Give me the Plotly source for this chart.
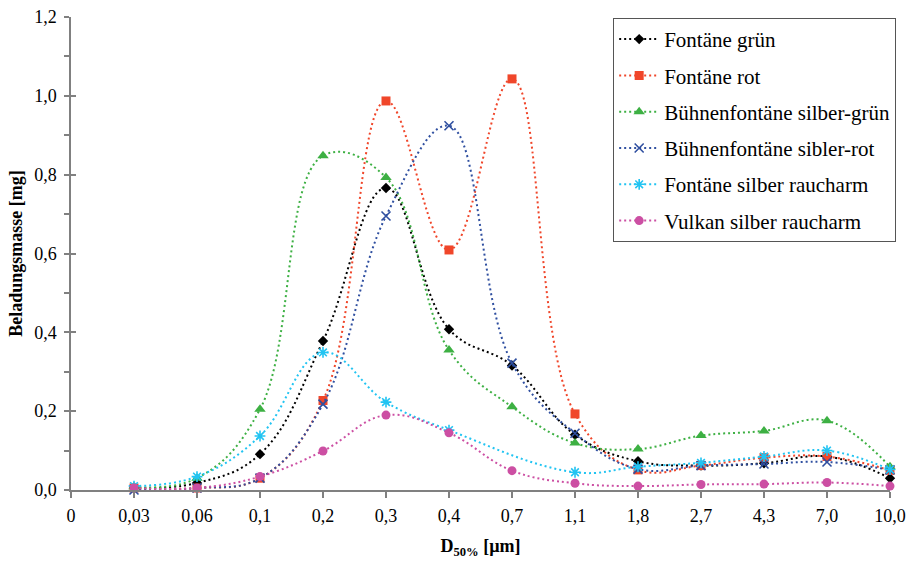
import plotly.graph_objects as go

categories = ["0", "0,03", "0,06", "0,1", "0,2", "0,3", "0,4", "0,7", "1,1", "1,8", "2,7", "4,3", "7,0", "10,0"]
pos = list(range(1, 14))

fontaene_gruen = [0.005, 0.018, 0.091, 0.378, 0.766, 0.408, 0.316, 0.140, 0.073, 0.062, 0.068, 0.085, 0.030]
fontaene_rot = [0.005, 0.005, 0.030, 0.227, 0.987, 0.609, 1.043, 0.193, 0.051, 0.062, 0.082, 0.085, 0.050]
buehne_silber_gruen = [0.008, 0.030, 0.205, 0.848, 0.793, 0.355, 0.211, 0.119, 0.104, 0.138, 0.150, 0.176, 0.059]
buehne_silber_rot = [0.000, 0.005, 0.030, 0.218, 0.695, 0.924, 0.322, 0.144, 0.053, 0.062, 0.066, 0.071, 0.051]
fontaene_silber_raucharm = [0.010, 0.034, 0.137, 0.349, 0.223, 0.152, None, 0.045, 0.059, 0.069, 0.085, 0.100, 0.052]
vulkan_silber_raucharm = [0.005, 0.005, 0.034, 0.099, 0.190, 0.145, 0.049, 0.017, 0.010, 0.014, 0.015, 0.019, 0.010]

series = [
    ("Fontäne grün", fontaene_gruen, "#000000", "diamond", 8, None),
    ("Fontäne rot", fontaene_rot, "#F0462A", "square", 9, None),
    ("Bühnenfontäne silber-grün", buehne_silber_gruen, "#3DB043", "triangle-up", 10, None),
    ("Bühnenfontäne sibler-rot", buehne_silber_rot, "#2F4FA0", "x-thin-open", 9, 1.6),
    ("Fontäne silber raucharm", fontaene_silber_raucharm, "#22C4F2", "asterisk-open", 9, 1.6),
    ("Vulkan silber raucharm", vulkan_silber_raucharm, "#CC4FA3", "circle", 9, None),
]

FONT = "Liberation Serif, Tinos, Times New Roman, Times, DejaVu Serif, Noto Serif, FreeSerif, serif"
fig = go.Figure()
for name, vals, col, sym, size, lw in series:
    marker = dict(symbol=sym, size=size, color=col)
    if lw:
        marker["line"] = dict(color=col, width=lw)
    else:
        marker["line"] = dict(width=0)
    fig.add_trace(go.Scatter(
        x=pos, y=vals, name=name, mode="lines+markers",
        line=dict(color=col, width=2, dash="2px,3px", shape="spline", smoothing=1.15),
        marker=marker, connectgaps=True, legendgroup=name, cliponaxis=False,
    ))

# overlay axis for inside half of crossing major ticks
fig.add_trace(go.Scatter(x=[None], y=[None], yaxis="y2", showlegend=False, hoverinfo="skip"))

fig.update_layout(
    width=914, height=561,
    margin=dict(l=71, r=24, t=17, b=71, autoexpand=False),
    paper_bgcolor="white", plot_bgcolor="white",
    font=dict(family=FONT, size=18, color="black"),
    showlegend=True,
    legend=dict(
        x=0.662, y=0.998, xanchor="left", yanchor="top",
        bgcolor="white", bordercolor="#555555", borderwidth=1,
        font=dict(family=FONT, size=21, color="black"),
        tracegroupgap=6, itemwidth=40,
    ),
    xaxis=dict(
        range=[0, 13], tickmode="array", tickvals=list(range(0, 14)), ticktext=categories,
        showgrid=False, zeroline=False, showline=True, linecolor="#808080", linewidth=1.5,
        ticks="outside", ticklen=6, tickcolor="#808080", tickwidth=1.5, automargin=False,
        tickfont=dict(family=FONT, size=18), ticklabelstandoff=3,
        title=dict(text="<b>D<sub>50%</sub> [µm]</b>", font=dict(family=FONT, size=18), standoff=14),
    ),
    yaxis=dict(
        range=[0, 1.2], tickmode="array", tickvals=[0, 0.2, 0.4, 0.6, 0.8, 1.0, 1.2],
        ticktext=["0,0", "0,2", "0,4", "0,6", "0,8", "1,0", "1,2"],
        showgrid=False, zeroline=False, showline=True, linecolor="#808080", linewidth=1.5,
        ticks="outside", ticklen=5, tickcolor="#808080", tickwidth=1.5, automargin=False,
        minor=dict(tickvals=[0.1, 0.3, 0.5, 0.7, 0.9, 1.1], ticks="outside", ticklen=5,
                   tickcolor="#808080", tickwidth=1.5, showgrid=False),
        tickfont=dict(family=FONT, size=18), ticklabelstandoff=4,
        title=dict(text="<b>Beladungsmasse [mg]</b>", font=dict(family=FONT, size=18), standoff=7),
    ),
    yaxis2=dict(
        overlaying="y", range=[0, 1.2], tickmode="array", tickvals=[0, 0.2, 0.4, 0.6, 0.8, 1.0, 1.2],
        side="left", showticklabels=False, showgrid=False, zeroline=False, showline=False,
        ticks="inside", ticklen=5, tickcolor="#808080", tickwidth=1.5, automargin=False,
    ),
)

# remove the browser's default 8px page margin so the figure sits at the window's top-left
fig.write_html("out.html", config={"displayModeBar": False},
               post_script="document.body.style.margin='0';")
